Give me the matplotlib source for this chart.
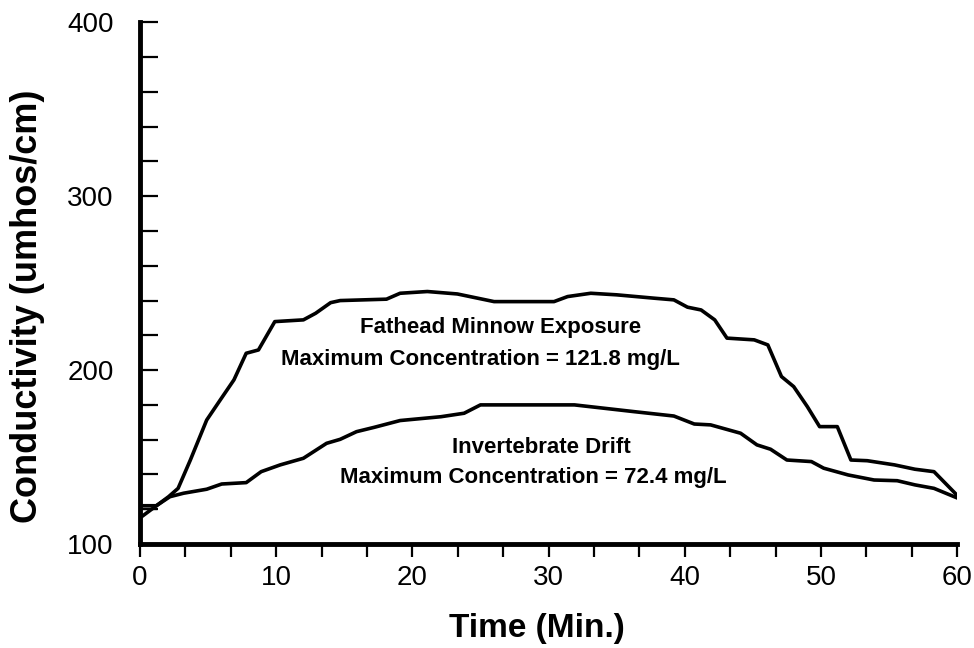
import matplotlib
matplotlib.use("Agg")
import matplotlib.pyplot as plt
from matplotlib.ticker import MultipleLocator, NullFormatter

plt.rcParams['font.family'] = ['Liberation Sans', 'DejaVu Sans']

# readings taken off the original figure (time in min, conductivity in umhos/cm)
fathead_t = [0, 2.1, 2.8, 3.7, 4.9, 5.9, 6.9, 7.8, 8.7, 9.9, 12.0, 12.9, 14.0, 14.7,
             18.1, 19.1, 21.1, 23.3, 26.0, 30.4, 31.4, 33.1, 35.0, 37.7, 39.2,
             40.2, 41.2, 42.2, 43.1, 45.1, 46.1, 47.1, 48.0, 49.0, 49.9, 51.2,
             52.2, 53.4, 55.4, 56.9, 58.3, 60]
fathead_c = [115, 127.2, 132, 148.3, 171.3, 182.9, 194.4, 209.7, 211.6, 227.9, 228.9,
             232.7, 238.8, 240, 240.8, 244.2, 245.2, 243.8, 239.4, 239.4, 242.3,
             244.2, 243.3, 241.4, 240.4, 236.2, 234.6, 228.9, 218.4, 217.4, 214.5,
             196.3, 190.5, 179, 167.5, 167.5, 148.3, 147.9, 145.5, 143, 141.6, 128]

invert_t = [0, 1.2, 2.2, 3.2, 4.9, 6.0, 7.8, 8.9, 10.3, 12.0, 13.7, 14.7, 15.9, 17.2,
            19.1, 22.1, 23.8, 25.0, 31.9, 36.3, 39.2, 40.7, 41.9, 44.1, 45.3, 46.3,
            47.5, 49.3, 50.2, 52.0, 53.9, 55.6, 56.9, 58.3, 60]
invert_c = [122, 122, 127.2, 129.2, 131.5, 134.5, 135.3, 141.6, 145.5, 149.3, 157.9,
            160.2, 164.6, 167.1, 171, 173.2, 175.2, 180, 180, 176.1, 173.6, 169,
            168.5, 163.7, 157, 154.5, 148.3, 147.4, 143.6, 139.7, 136.8, 136.4,
            134, 132, 126.5]

# short flat stub at the start of the record
stub_t = [0, 1.2]
stub_c = [120, 120]

fig = plt.figure(figsize=(9.74, 6.48), dpi=100)
ax = fig.add_axes([0.1437, 0.1605, 0.839, 0.805])

ax.plot(fathead_t, fathead_c, color='black', lw=2.6, solid_joinstyle='round')
ax.plot(invert_t, invert_c, color='black', lw=2.6, solid_joinstyle='round')
ax.plot(stub_t, stub_c, color='black', lw=1.6)

ax.set_xlim(0, 60)
ax.set_ylim(100, 400)

for side in ['top', 'right']:
    ax.spines[side].set_visible(False)
for side in ['left', 'bottom']:
    ax.spines[side].set_linewidth(3.5)

ax.xaxis.set_major_locator(MultipleLocator(10))
ax.xaxis.set_minor_locator(MultipleLocator(10 / 3))
ax.yaxis.set_major_locator(MultipleLocator(100))
ax.yaxis.set_minor_locator(MultipleLocator(20))
ax.yaxis.set_minor_formatter(NullFormatter())

ax.tick_params(axis='x', which='both', direction='out', length=9, width=1.6,
               labelsize=20, pad=6)
ax.tick_params(axis='y', which='both', direction='in', length=13, width=1.6,
               labelsize=20, pad=19)

ax.set_xlabel('Time (Min.)', fontsize=24, fontweight='bold')
ax.set_ylabel('Conductivity (umhos/cm)', fontsize=26, fontweight='bold')
ax.xaxis.set_label_coords(0.486, -0.132)
ax.yaxis.set_label_coords(-0.116, 0.455)

ax.text(26.5, 221.2, 'Fathead Minnow Exposure', ha='center', va='baseline',
        fontsize=16, fontweight='bold')
ax.text(25.0, 203.0, 'Maximum Concentration = 121.8 mg/L', ha='center', va='baseline',
        fontsize=16, fontweight='bold')
ax.text(29.5, 152.1, 'Invertebrate Drift', ha='center', va='baseline',
        fontsize=16, fontweight='bold')
ax.text(28.9, 135.1, 'Maximum Concentration = 72.4 mg/L', ha='center', va='baseline',
        fontsize=16, fontweight='bold')

fig.savefig('out.png', dpi=100)
